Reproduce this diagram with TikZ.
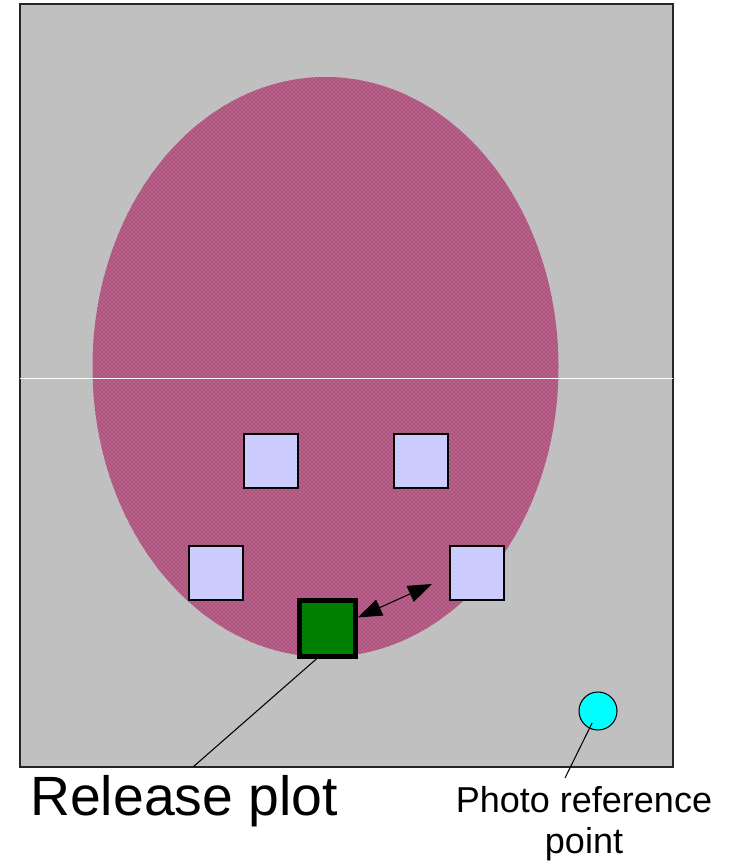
\documentclass[tikz,border=0pt]{standalone}
\usepackage{fontspec}
\setmainfont{Liberation Sans}
\usetikzlibrary{arrows.meta,patterns}

\definecolor{sfondo}{RGB}{192,192,192}
\definecolor{lilla}{RGB}{204,204,255}
\definecolor{verdescuro}{RGB}{0,128,0}
\definecolor{prugna}{RGB}{150,30,90}
\definecolor{rosa}{RGB}{182,98,138}
\definecolor{ciano}{RGB}{0,255,255}

\tikzset{
    quadro/.style={rectangle, draw=black, line width=1.3pt, fill=lilla, minimum size=41pt, inner sep=0pt},
    rilascio/.style={rectangle, draw=black, line width=3.6pt, fill=verdescuro, minimum size=42pt, inner sep=0pt},
    riferimento/.style={circle, draw=black, line width=0.8pt, fill=ciano, minimum size=28.5pt, inner sep=0pt},
    guida/.style={line width=0.8pt, black}
}

\begin{document}
\begin{tikzpicture}[x=0.75pt,y=-0.75pt]
    \useasboundingbox (0,0) rectangle (729,862);

    % Campo e area
    \draw[fill=sfondo, draw=black!85, line width=1.5pt] (20,4) rectangle (673,767);
    \fill[rosa] (325.5,367) ellipse [x radius=233, y radius=290];
    \fill[pattern=crosshatch dots, pattern color=prugna] (325.5,367) ellipse [x radius=233, y radius=290];
    \draw[white, line width=0.8pt] (20,378.5) -- (673,378.5);

    % Quadrati
    \node[quadro] (q1) at (271,461) {};
    \node[quadro] (q2) at (421,461) {};
    \node[quadro] (q3) at (216,573) {};
    \node[quadro] (q4) at (477,573) {};
    \node[rilascio] (verde) at (327.5,628.5) {};
    \node[riferimento] (foto) at (598,711) {};

    % Etichette
    \node[anchor=base west, inner sep=0pt, font=\fontsize{41.5}{48}\selectfont] (rp) at (30,815) {Release plot};
    \node[anchor=north, inner sep=0pt, align=center, font=\fontsize{27}{30.8}\selectfont] (prp) at (584,786) {Photo reference\\point};

    % Collegamenti
    \coordinate (rpfine) at (193,767);
    \coordinate (prpfine) at (565,778);
    \coordinate (punta) at (432,584);
    \draw[guida] (verde.-110) -- (rpfine);
    \draw[guida, shorten >=10pt] (prpfine) -- (foto.center);
    \draw[guida, {Triangle[length=18pt,width=13pt]}-{Triangle[length=18pt,width=13pt]}] (verde.20) -- (punta);
\end{tikzpicture}
\end{document}
